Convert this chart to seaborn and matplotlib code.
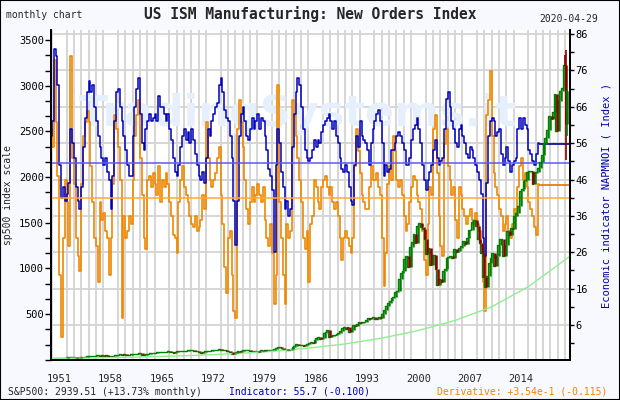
import matplotlib
matplotlib.use("Agg")
import matplotlib.pyplot as plt
from matplotlib.ticker import FixedLocator, MultipleLocator
from matplotlib.patches import Rectangle
import seaborn as sns
import pandas as pd
import numpy as np

# --- S&P 500, quarterly closes 1950Q1 .. 2019Q4 (left scale)
sp_close = [
    17.3, 17.7, 19.5, 20.4,  21.4, 21.0, 23.3, 23.8,  24.4, 25.0, 25.0, 26.6,
    25.3, 24.1, 23.4, 24.8,  26.9, 29.2, 32.3, 36.0,  36.6, 41.0, 43.7, 45.5,
    48.5, 46.9, 45.4, 46.7,  44.1, 47.4, 42.4, 39.9,  42.1, 45.2, 50.1, 55.2,
    55.4, 58.5, 56.9, 59.9,  55.3, 56.9, 53.5, 58.1,  65.1, 64.6, 66.7, 71.6,
    69.6, 54.8, 56.3, 63.1,  66.6, 69.4, 71.7, 75.0,  78.9, 81.7, 84.2, 84.8,
    86.2, 84.1, 89.9, 92.4,  89.2, 84.7, 77.0, 80.3,  90.2, 90.6, 96.7, 96.5,
    90.2, 99.6, 102.7, 103.9,  101.5, 97.7, 93.1, 92.1,  89.6, 72.7, 84.2, 92.2,
    100.3, 99.7, 98.3, 102.1,  107.2, 107.1, 110.6, 118.1,  111.5, 104.3, 108.4, 97.6,
    93.9, 86.0, 63.5, 68.6,  83.4, 95.2, 83.9, 90.2,  102.8, 104.3, 105.2, 107.5,
    98.4, 100.5, 96.5, 95.1,  89.2, 95.5, 102.5, 96.1,  101.6, 102.9, 109.3, 107.9,
    102.1, 114.2, 125.5, 135.8,  136.0, 131.2, 116.2, 122.6,  111.9, 109.6, 120.4, 140.6,
    153.0, 168.1, 166.1, 164.9,  159.2, 153.2, 166.1, 167.2,  180.7, 191.9, 182.1, 211.3,
    238.9, 250.8, 231.3, 242.2,  291.7, 304.0, 321.8, 247.1,  258.9, 273.5, 271.9, 277.7,
    294.9, 317.8, 349.2, 353.4,  339.9, 358.0, 306.1, 330.2,  375.2, 371.2, 387.9, 417.1,
    403.7, 408.1, 418.5, 435.7,  451.7, 450.5, 458.9, 466.5,  445.8, 444.3, 462.7, 459.3,
    500.7, 544.8, 584.4, 615.9,  645.5, 670.6, 687.3, 740.7,  757.1, 885.1, 947.3, 970.4,
    1101.8, 1133.8, 1017.0, 1229.2,  1286.4, 1372.7, 1282.7, 1469.3,
    1498.6, 1454.6, 1436.5, 1320.3,  1160.3, 1224.4, 1040.9, 1148.1,
    1147.4, 989.8, 815.3, 879.8,  848.2, 974.5, 996.0, 1111.9,
    1126.2, 1140.8, 1114.6, 1211.9,  1180.6, 1191.3, 1228.8, 1248.3,
    1294.8, 1270.2, 1335.9, 1418.3,  1420.9, 1503.4, 1526.8, 1468.4,
    1322.7, 1280.0, 1166.4, 903.3,  797.9, 919.3, 1057.1, 1115.1,
    1169.4, 1030.7, 1141.2, 1257.6,  1325.8, 1320.6, 1131.4, 1257.6,
    1408.5, 1362.2, 1440.7, 1426.2,  1569.2, 1606.3, 1681.6, 1848.4,
    1872.3, 1960.2, 1972.3, 2058.9,  2067.9, 2063.1, 1920.0, 2043.9,
    2059.7, 2098.9, 2168.3, 2238.8,  2362.7, 2423.4, 2519.4, 2673.6,
    2640.9, 2718.4, 2913.9, 2506.9,  2834.4, 2941.8, 2976.7, 3230.8,
]
# monthly closes 2020 Jan..Apr, with the high / low wicks
sp_tail_t = [2020.04, 2020.12, 2020.2, 2020.29]
sp_tail = [3225.5, 2954.2, 2584.6, 2939.5]
sp_tail_hi = [3337.8, 3393.5, 3136.7, 2954.9]
sp_tail_lo = [3214.6, 2855.8, 2191.9, 2447.5]

# long term trend curve (left scale)
trend_t = [1950, 1955, 1960, 1965, 1970, 1975, 1980, 1985, 1990, 1995,
           2000, 2005, 2010, 2015, 2020.7]
trend_v = [14, 19, 26, 36, 49, 67, 92, 127, 173, 236,
           320, 430, 580, 800, 1135]

# --- NAPMNOI, quarterly from 1949Q4 (right scale)
napm = [58,
    62, 82, 80, 72,  50, 41, 44, 40,  42, 45, 60, 56,  52, 44, 40, 38,  44, 55, 63, 70,
    73, 70, 72, 66,  62, 58, 55, 52,  50, 52, 48, 46,  38, 47, 62, 70,  71, 66, 62, 58,
    54, 50, 47, 47,  58, 66, 71, 74,  64, 56, 54, 60,  62, 64, 62, 63,  64, 62, 69, 66,
    66, 64, 62, 64,  60, 57, 52, 48,  47, 50, 55, 58,  60, 57, 59, 56,  60, 57, 53, 50,
    47, 46, 48, 45,  52, 60, 58, 62,  64, 66, 67, 72,  74, 70, 65, 63,  62, 58, 52, 40,
    28, 40, 58, 64,  66, 62, 58, 57,  60, 63, 60, 62,  64, 60, 63, 62,  58, 54, 49, 47,
    43, 26, 50, 60,  56, 48, 44, 38,  40, 36, 38, 55,  64, 70, 74, 72,  66, 60, 54, 52,
    51, 52, 54, 57,  55, 57, 56, 59,  61, 62, 63, 64,  62, 60, 62, 58,  56, 52, 49, 48,
    50, 48, 44, 40,  39, 50, 58, 55,  62, 58, 57, 56,  54, 50, 56, 60,  62, 64, 65, 62,
    56, 47, 50, 48,  49, 54, 54, 56,  58, 59, 58, 56,  54, 50, 50, 52,  57, 60, 61, 63,
    60, 56, 50, 46,  43, 46, 48, 50,  54, 57, 52, 50,  51, 52, 60, 68,  70, 66, 62, 60,
    56, 55, 60, 61,  58, 56, 53, 52,  55, 54, 52, 50,  48, 46, 42, 30,  25, 45, 58, 62,
    63, 62, 58, 59,  60, 53, 50, 52,  55, 51, 48, 50,  51, 52, 60, 63,  60, 63, 61, 60,
    54, 53, 51, 50,  53, 56, 56]

# derivative of the indicator, same dates
deriv = [1.9,
    1.4, 3.8, 2.1, 0.6,  -2.1, -3.8, -1.1, 0.5,  -0.1, -1.3, 3.9, 1.1,  0.4, -1.1, -1.6, -2.0,
    0.4, 1.7, 2.1, 2.4,  2.1, 0.9, -0.1, -1.1,  -1.3, -2.3, -0.1, -0.6,  -0.4, -0.9, -1.1, -2.1,
    -1.1, 0.4, 2.3, 1.9,  1.4, 0.5, -3.3, -0.5,  -1.1, -0.9, -0.5, -0.7,  0.5, 1.7, 2.3, 2.7,
    1.1, 0.1, -1.1, -1.4,  0.5, 0.6, 0.3, 0.7,  0.4, 0.1, 0.9, -0.1,  0.5, 0.3, 0.7, 0.4,
    -0.1, -0.5, -1.0, -1.1,  -1.5, -0.1, 0.5, 0.9,  0.3, 0.1, -0.1, -0.5,  -0.7, -0.8, -0.5, -0.9,
    -0.8, -0.6, 0.1, -0.3,  2.1, 1.1, 0.5, 0.3,  0.5, 0.7, 1.1, 1.4,  0.1, -0.7, -1.9, -2.6,
    -1.1, -0.9, -2.1, -3.1,  -3.3, 1.9, 2.7, 2.1,  1.4, 0.5, -0.3, -0.7,  -0.1, 0.3, -0.1, 0.1,
    0.4, 0.1, -0.1, 0.3,  -0.6, -1.1, -1.3, -0.7,  -1.5, -2.9, -2.1, 3.1,  -0.1, -1.1, -2.1, -2.9,
    -0.7, -1.1, -0.9, 2.7,  2.3, 1.7, 1.1, 0.5,  -0.1, -1.1, -1.4, -0.9,  -2.3, -0.7, -0.5, 0.5,
    0.3, -0.1, -0.3, 0.3,  0.5, 0.6, 0.3, 0.1,  0.3, -0.1, -0.3, -0.1,  -0.5, -1.1, -1.7, -1.1,
    -0.9, -1.1, -1.3, -1.5,  -1.1, 0.9, 1.9, 1.3,  0.7, 0.1, -0.1, -0.3,  -0.3, 0.3, 0.9, 0.5,
    0.5, 0.7, 0.3, 0.1,  -1.1, -2.4, -1.5, 0.4,  0.9, 0.5, 1.7, 1.3,  0.5, 0.3, 0.5, 0.1,
    -0.5, -0.9, -0.7, -0.1,  0.3, 0.6, 0.5, 0.1,  -0.1, -0.3, -0.9, -1.7,  -2.1, -0.7, 0.3, 0.1,
    1.9, 2.3, 0.7, -0.5,  -1.3, -1.6, 1.5, 1.9,  0.9, 0.5, 0.1, 0.3,  -0.6, -1.1, 0.3, 0.1,
    -0.3, -0.5, -0.7, -0.5,  -0.3, -0.6, -0.7, -0.4,  -0.7, -0.9, -1.3, -2.3,  -3.1, 2.3, 2.7, 3.5,
    1.7, 0.7, 0.3, 0.1,  -0.3, -0.5, -0.9, -0.7,  -0.5, -0.9, -1.1, -0.7,  -0.3, -0.5, 0.3, 0.9,
    1.1, 0.5, 0.7, 0.3,  -0.1, -0.3, -0.5, -0.8,  -1.0, 0.4, 0.4]

napm_ref = 50.45      # reference level of indicator
deriv_zero = 40.85    # where derivative 0 sits on the right scale
deriv_k = 10.0        # right-scale units per 1.0 of derivative
last_napm = 55.7
last_deriv = 0.354
year_ticks = [1951, 1958, 1965, 1972, 1979, 1986, 1993, 2000, 2007, 2014]

xlim = (1949.87, 2020.68)

sns.set_style("white")
plt.rcParams['font.family'] = ['DejaVu Sans Mono']

fig = plt.figure(figsize=(6.2, 4.0), dpi=100, facecolor="#f8f8ff")
ax = fig.add_axes([51 / 620, 40 / 400, 519 / 620, 330 / 400])
ax2 = ax.twinx()
ax.set_zorder(ax2.get_zorder() + 1)
ax.patch.set_visible(False)
ax2.patch.set_visible(True)
ax2.patch.set_facecolor("white")

# indicator + derivative on the right scale
ind = pd.DataFrame({
    "t": 1949.75 + 0.25 * np.arange(len(napm)),
    "napm": napm,
    "deriv": np.array(deriv) * deriv_k + deriv_zero,
})
sns.lineplot(data=ind, x="t", y="deriv", ax=ax2, color="#ee8800", lw=1.2,
             drawstyle="steps-post", zorder=2)
sns.lineplot(data=ind, x="t", y="napm", ax=ax2, color="#0000bb", lw=1.1,
             drawstyle="steps-post", zorder=3)
t_end = ind["t"].iloc[-1]
ax2.hlines(napm_ref, *xlim, color="#5b5bee", lw=1.1, zorder=4)
ax2.hlines(deriv_zero, *xlim, color="#ffaa33", lw=1.1, zorder=4)
ax2.hlines(last_napm, t_end, xlim[1], color="#00008b", lw=1.2, zorder=4)
ax2.hlines(last_deriv * deriv_k + deriv_zero, t_end, xlim[1], color="#dd7700", lw=1.2, zorder=4)

ax2.text(0.475, 0.745, "TradingSystems.it", transform=ax2.transAxes,
         ha="center", va="center", fontsize=31, fontweight="bold",
         family="DejaVu Sans", color="#e6f0fd", zorder=1)

ax2.set_xlim(*xlim)
ax2.set_ylim(-3.6, 87.1)
ax2.yaxis.set_major_locator(FixedLocator(np.arange(6, 87, 10)))
ax2.yaxis.set_minor_locator(FixedLocator(np.arange(1, 87, 10)))
ax2.xaxis.set_visible(True)
ax2.xaxis.set_minor_locator(MultipleLocator(1))
ax2.tick_params(axis="x", which="both", length=0, labelbottom=False, labeltop=False)
ax2.grid(axis="x", which="minor", color="#d3d3d3", lw=1.3)
ax2.grid(axis="y", which="major", color="#d3d3d3", lw=1.3)
ax2.set_axisbelow(True)
ax2.tick_params(axis="y", which="both", direction="out", length=3, width=1,
                labelsize=7.5, pad=1, colors="black")
ax2.set_ylabel("Economic indicator NAPMNOI ( Index )", color="#0000aa",
               fontsize=7.5, labelpad=10)

# S&P 500 candles on the left scale
sp_t = list(1950.2 + 0.25 * np.arange(len(sp_close))) + sp_tail_t
sp_all = sp_close + sp_tail
sp_prev = [sp_all[0]] + sp_all[:-1]
sp = pd.DataFrame({"t": sp_t, "close": sp_all, "prev": sp_prev})
sp["up"] = sp["close"] >= sp["prev"]
sns.lineplot(data=sp, x="t", y="close", ax=ax, color="#008000", lw=1.0,
             drawstyle="steps-pre", zorder=2)
for up, col in [(True, "#008000"), (False, "#8b0000")]:
    s = sp[sp["up"] == up]
    ax.vlines(s["t"], s[["prev", "close"]].min(axis=1), s[["prev", "close"]].max(axis=1),
              color=col, lw=1.8, zorder=3)
wick_col = ["#008000" if c >= p else "#8b0000"
            for c, p in zip(sp_tail, sp_all[-5:-1])]
ax.vlines(sp_tail_t, sp_tail_lo, sp_tail_hi, color=wick_col, lw=1.2, zorder=3)

trend = pd.DataFrame({"t": trend_t, "v": trend_v})
sns.lineplot(data=trend, x="t", y="v", ax=ax, color="#90ee90", lw=1.0, zorder=2)

ax.set_xlim(*xlim)
ax.set_ylim(-3, 3611)
ax.yaxis.set_major_locator(FixedLocator(np.arange(500, 3501, 500)))
ax.yaxis.set_minor_locator(FixedLocator(np.arange(0, 3611, 500 / 3)))
ax.tick_params(axis="y", which="both", direction="out", length=4, width=1,
               labelsize=7.5, pad=1, colors="black")
ax.set_xticks(year_ticks)
ax.set_xticklabels([str(y) for y in year_ticks])
ax.tick_params(axis="x", length=0, labelsize=7.5, pad=10)
ax.set_xlabel("")
ax.set_ylabel("sp500 index scale", fontsize=7, labelpad=4)

for a in (ax, ax2):
    a.spines["top"].set_visible(False)
    for side in ("left", "right", "bottom"):
        a.spines[side].set_color("black")
        a.spines[side].set_linewidth(1.3)
ax2.set_xlabel("")

def px(x, y):
    return x / 620, 1 - y / 400

fig.text(*px(6, 15), "monthly chart", fontsize=7, va="center", ha="left")
fig.text(*px(310, 14), "US ISM Manufacturing: New Orders Index", fontsize=10.5,
         fontweight="bold", va="center", ha="center")
fig.text(*px(598, 19), "2020-04-29", fontsize=7, va="center", ha="right")
fig.text(*px(8, 392), "S&P500: 2939.51 (+13.73% monthly)", fontsize=7,
         va="center", ha="left")
fig.text(*px(229, 392), "Indicator: 55.7 (-0.100)", fontsize=7, color="#0000aa",
         va="center", ha="left")
fig.text(*px(607, 392), "Derivative: +3.54e-1 (-0.115)", fontsize=7, color="#ee8800",
         va="center", ha="right")

fig.patches.append(Rectangle((0, 0), 1, 1, transform=fig.transFigure, fill=False,
                             edgecolor="black", lw=1.5))

fig.savefig("out.png", dpi=100, facecolor=fig.get_facecolor())
